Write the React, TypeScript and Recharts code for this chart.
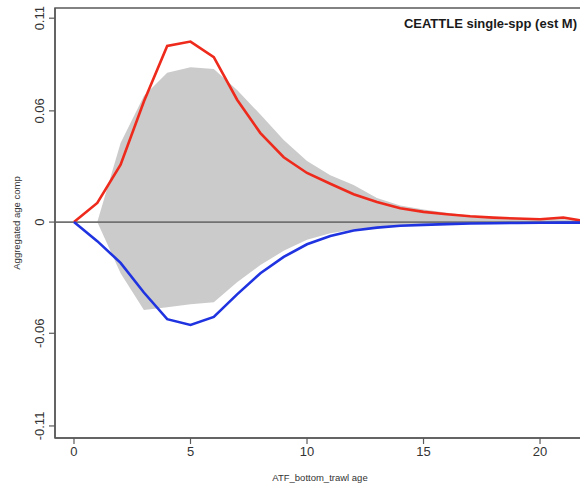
import React from 'react';
import {
  ComposedChart,
  Area,
  Line,
  XAxis,
  YAxis,
  ReferenceLine,
  ReferenceArea,
} from 'recharts';

// Age classes
const ages = [0, 1, 2, 3, 4, 5, 6, 7, 8, 9, 10, 11, 12, 13, 14, 15, 16, 17, 18, 19, 20, 21, 22];

// Positive aggregated composition (red)
const posComp = [
  0, 0.0103, 0.031, 0.065, 0.095, 0.0974, 0.089, 0.066, 0.048, 0.035, 0.0265, 0.0207,
  0.015, 0.0108, 0.0075, 0.0055, 0.0042, 0.0031, 0.0024, 0.0019, 0.0015, 0.0025, 0.0003,
];

// Negative aggregated composition (blue)
const negComp = [
  0, -0.0103, -0.022, -0.038, -0.0524, -0.0555, -0.0512, -0.039, -0.0276, -0.0188, -0.012,
  -0.0075, -0.0045, -0.003, -0.002, -0.0015, -0.0011, -0.0008, -0.0006, -0.0005, -0.0004,
  -0.0003, -0.0003,
];

// Shaded envelope (gray band)
const bandHigh = [
  0, 0, 0.0427, 0.068, 0.0805, 0.0835, 0.0826, 0.0712, 0.058, 0.0443, 0.033, 0.0252, 0.02,
  0.013, 0.009, 0.0068, 0.005, 0.0036, 0.0028, 0.0022, 0.0018, 0.0015, 0.001,
];
const bandLow = [
  0, 0, -0.0276, -0.0475, -0.046, -0.0443, -0.0432, -0.0324, -0.0232, -0.0155, -0.0095,
  -0.006, -0.004, -0.0027, -0.0019, -0.0014, -0.001, -0.0008, -0.0006, -0.0005, -0.0004,
  -0.0003, -0.0002,
];

const xTicks = [0, 5, 10, 15, 20];
const yTicks = [-0.11, -0.06, 0, 0.06, 0.11];

const X_DOMAIN: [number, number] = [-0.815, 21.93];
const Y_DOMAIN: [number, number] = [-0.1165, 0.1155];

const FONT = '"Liberation Sans", Arial, Helvetica, sans-serif';
const AXIS_COLOR = '#5a5a5a';

const data = ages.map((age, i) => ({
  age,
  pos: posComp[i],
  neg: negComp[i],
  band: [bandLow[i], bandHigh[i]],
}));

const fmtY = (v: number) => (v === 0 ? '0' : String(v));

const YTick = (props: any) => {
  const { x, y, payload } = props;
  const bx = x - 3;
  return (
    <text
      x={bx}
      y={y}
      transform={`rotate(-90 ${bx} ${y})`}
      textAnchor="middle"
      fontSize={13}
      fontFamily={FONT}
      fill="#333"
    >
      {fmtY(payload.value)}
    </text>
  );
};

const XTick = (props: any) => {
  const { x, y, payload } = props;
  return (
    <text x={x} y={y + 10} textAnchor="middle" fontSize={13} fontFamily={FONT} fill="#333">
      {payload.value}
    </text>
  );
};

const XTitle = (props: any) => {
  const vb = props.viewBox || {};
  return (
    <text
      x={vb.x + vb.width / 2}
      y={vb.y + vb.height - 4}
      textAnchor="middle"
      fontSize={9.5}
      fontFamily={FONT}
      fill="#333"
    >
      ATF_bottom_trawl age
    </text>
  );
};

const YTitle = (props: any) => {
  const vb = props.viewBox || {};
  const tx = vb.x + 20;
  const ty = vb.y + vb.height / 2;
  return (
    <text
      x={tx}
      y={ty}
      transform={`rotate(-90 ${tx} ${ty})`}
      textAnchor="middle"
      fontSize={9.5}
      fontFamily={FONT}
      fill="#333"
    >
      Aggregated age comp
    </text>
  );
};

export default function App() {
  return (
    <div
      style={{
        position: 'fixed',
        left: 0,
        top: 0,
        width: 580,
        height: 485,
        overflow: 'hidden',
        background: '#fff',
      }}
    >
      <ComposedChart
        width={600}
        height={485}
        data={data}
        margin={{ top: 8, right: 15, bottom: 0, left: 0 }}
      >
        <XAxis
          dataKey="age"
          type="number"
          domain={X_DOMAIN}
          ticks={xTicks}
          allowDataOverflow
          height={47}
          tickSize={6}
          tickMargin={2}
          axisLine={{ stroke: AXIS_COLOR, strokeWidth: 1.5 }}
          tickLine={{ stroke: AXIS_COLOR, strokeWidth: 1.2 }}
          tick={<XTick />}
          label={<XTitle />}
        />
        <YAxis
          type="number"
          domain={Y_DOMAIN}
          ticks={yTicks}
          allowDataOverflow
          width={55}
          tickSize={6}
          tickMargin={2}
          axisLine={{ stroke: AXIS_COLOR, strokeWidth: 1.5 }}
          tickLine={{ stroke: AXIS_COLOR, strokeWidth: 1.2 }}
          tick={<YTick />}
          label={<YTitle />}
        />
        <ReferenceArea
          x1={X_DOMAIN[0]}
          x2={X_DOMAIN[1]}
          y1={Y_DOMAIN[0]}
          y2={Y_DOMAIN[1]}
          fill="none"
          stroke={AXIS_COLOR}
          strokeWidth={1.5}
          fillOpacity={0}
        />
        <Area
          type="linear"
          dataKey="band"
          fill="#cbcbcb"
          fillOpacity={1}
          stroke="none"
          isAnimationActive={false}
          dot={false}
          activeDot={false}
        />
        <ReferenceLine y={0} stroke="#717171" strokeWidth={1.8} />
        <Line
          type="linear"
          dataKey="pos"
          stroke="#ee2a1c"
          strokeWidth={2.6}
          dot={false}
          activeDot={false}
          isAnimationActive={false}
        />
        <Line
          type="linear"
          dataKey="neg"
          stroke="#1f33e0"
          strokeWidth={2.6}
          dot={false}
          activeDot={false}
          isAnimationActive={false}
        />
      </ComposedChart>
      <div
        style={{
          position: 'absolute',
          right: 3,
          top: 16,
          fontFamily: FONT,
          fontWeight: 'bold',
          fontSize: 13,
          lineHeight: '15px',
          color: '#1a1a1a',
          whiteSpace: 'nowrap',
        }}
      >
        CEATTLE single-spp (est M)
      </div>
    </div>
  );
}
